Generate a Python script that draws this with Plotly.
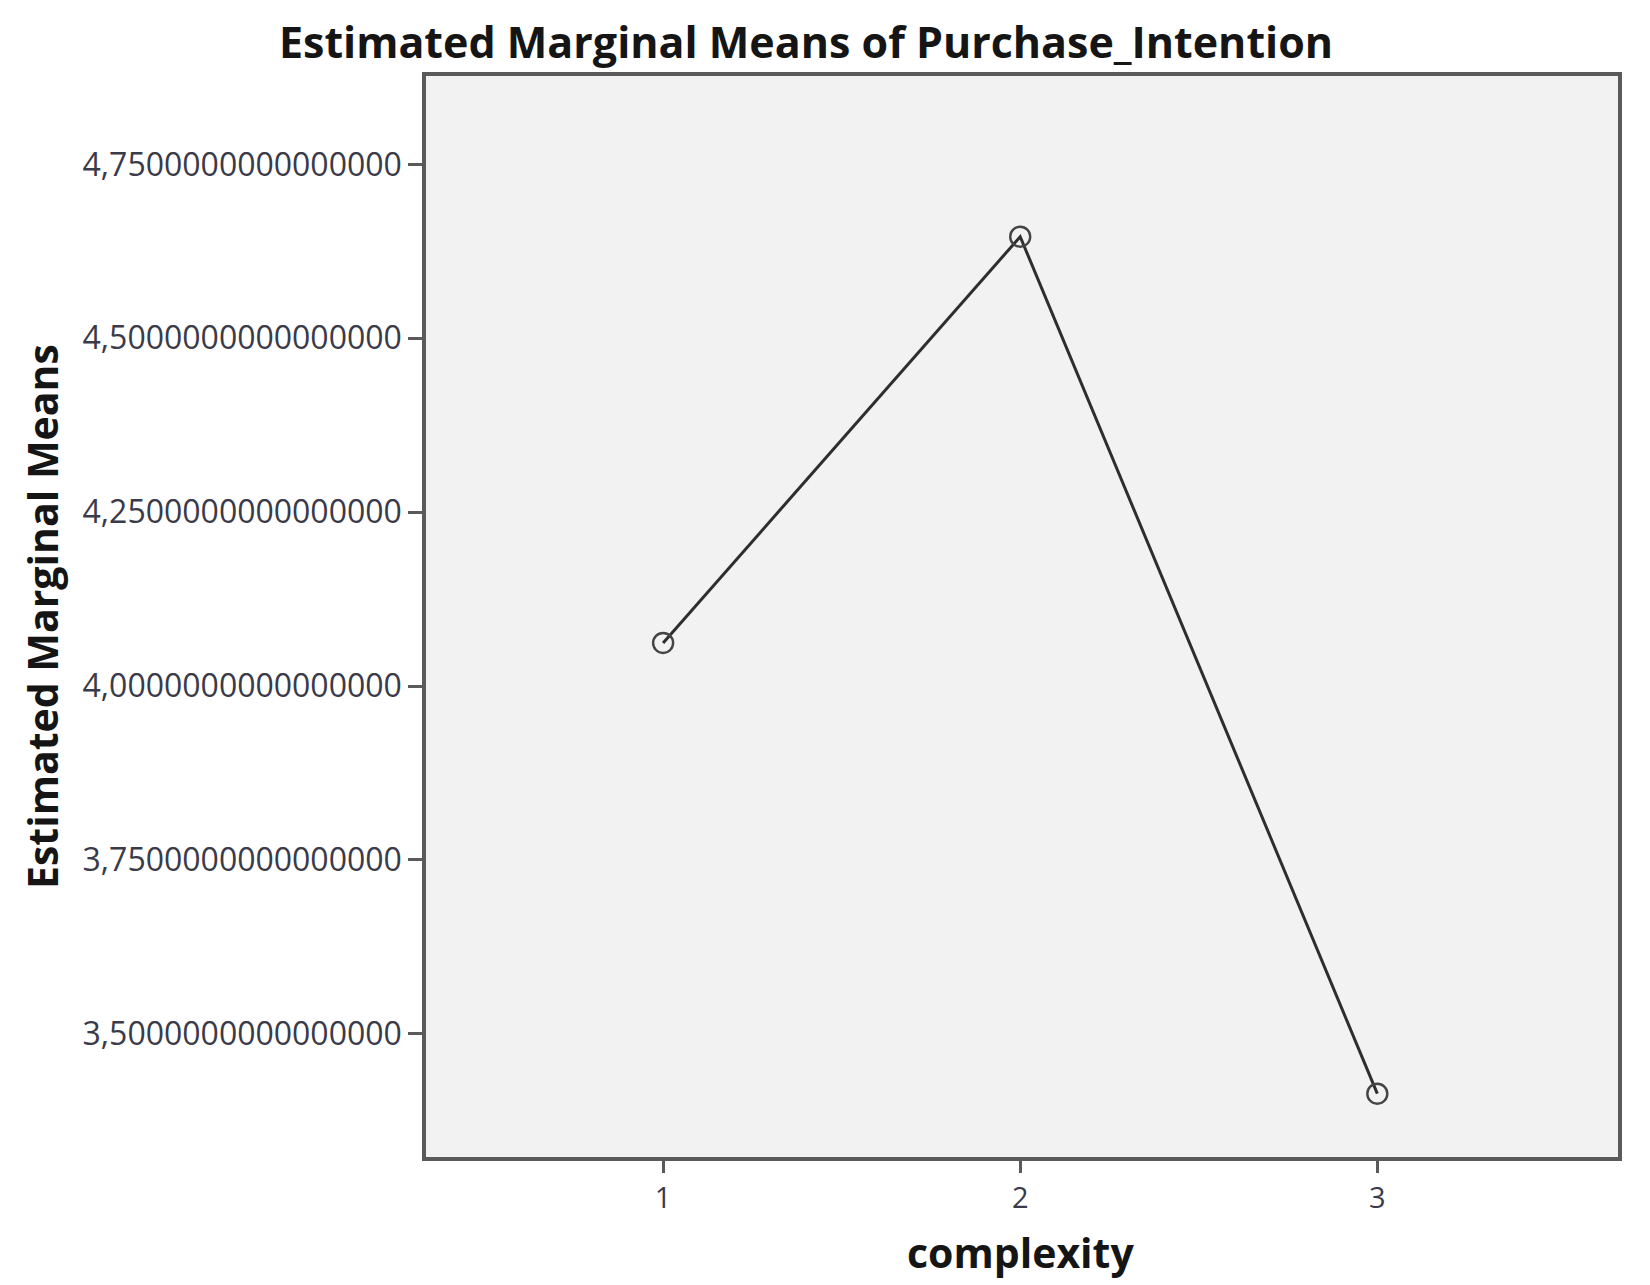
import plotly.graph_objects as go

# Data
complexity = [1, 2, 3]
marginal_means = [4.062, 4.646, 3.414]
y_tick_values = [3.5, 3.75, 4.0, 4.25, 4.5, 4.75]
y_tick_labels = ["3,5000000000000000", "3,7500000000000000", "4,0000000000000000",
                 "4,2500000000000000", "4,5000000000000000", "4,7500000000000000"]
x_tick_labels = ["1", "2", "3"]

W, H = 1650, 1285
OFF = 8  # default page body margin
L, R, T, B = 426 - OFF, 32 + OFF, 76 - OFF, 128 + OFF

fig = go.Figure()
fig.add_trace(go.Scatter(
    x=complexity, y=marginal_means, mode="lines+markers",
    line=dict(color="#2e2e2e", width=3),
    marker=dict(symbol="circle-open", size=20, color="#444444", line=dict(width=2.4, color="#444444")),
    showlegend=False, hoverinfo="x+y",
))

axis_common = dict(showline=True, linecolor="#5a5a5a", linewidth=3.5, mirror=True,
                   showgrid=False, zeroline=False, ticks="outside", tickcolor="#5a5a5a")

fig.update_xaxes(range=[0.336, 3.674], tickvals=complexity, ticktext=x_tick_labels,
                 ticklen=12, tickwidth=2.5,
                 tickfont=dict(family="Open Sans", size=29, color="#3a3a48"), **axis_common)
fig.update_yaxes(range=[3.323, 4.877], tickvals=y_tick_values, ticktext=y_tick_labels,
                 ticklen=14, tickwidth=2.5,
                 tickfont=dict(family="Open Sans", size=32, color="#3a3a48"), **axis_common)

pw, ph = W - L - R, H - T - B

def px_x(x):  # screen x -> plot paper fraction
    return (x - OFF - L) / pw

def px_y(y):  # screen y -> plot paper fraction
    return (H - B - (y - OFF)) / ph

fig.update_layout(
    width=W, height=H,
    margin=dict(l=L, r=R, t=T, b=B, autoexpand=False),
    paper_bgcolor="white", plot_bgcolor="#f2f2f2",
    title=dict(text="<b>Estimated Marginal Means of Purchase_Intention</b>",
               x=(806 - OFF) / W, xanchor="center", xref="container",
               y=1 - (43 - OFF) / H, yanchor="middle", yref="container",
               font=dict(family="Open Sans", size=43, color="#151515")),
    annotations=[
        dict(text="<b>complexity</b>", x=px_x(1020), y=px_y(1252), xref="paper", yref="paper",
             showarrow=False, xanchor="center", yanchor="middle",
             font=dict(family="Open Sans", size=41, color="#151515")),
        dict(text="<b>Estimated Marginal Means</b>", x=px_x(42), y=px_y(617), xref="paper", yref="paper",
             showarrow=False, xanchor="center", yanchor="middle", textangle=-90,
             font=dict(family="Open Sans", size=41, color="#151515")),
    ],
)

fig.write_html("out.html")
